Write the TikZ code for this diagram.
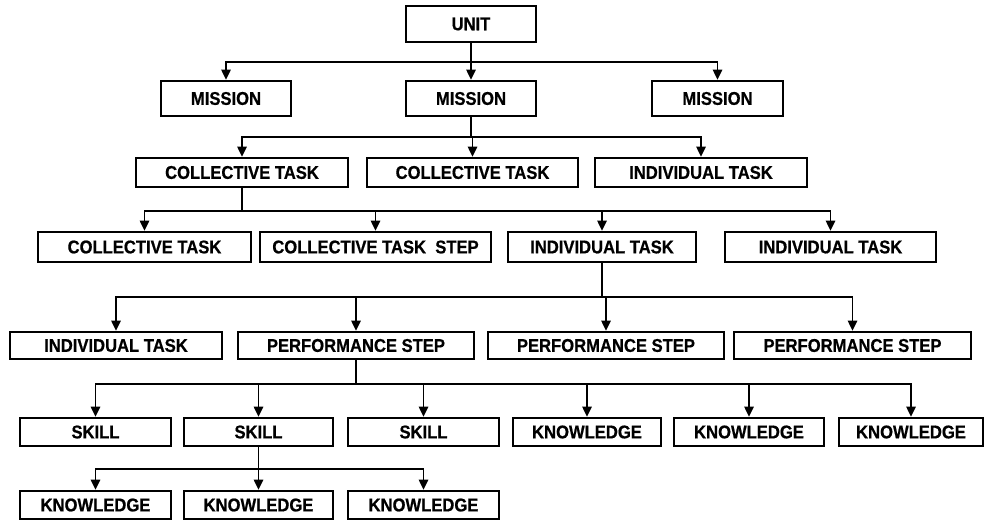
\documentclass[tikz,border=0pt]{standalone}
\usepackage{fontspec}
\setmainfont{Liberation Sans}[FakeStretch=0.9, BoldFeatures={FakeBold=0.6}]
\usetikzlibrary{arrows.meta}

% box named #1 spanning x #2..#3 and y #4..#5 (in drawing units), label #6
\newcommand{\orgbox}[6]{%
  \node[box, minimum width={(#3-#2-2)*0.02cm}, minimum height={(#5-#4-2)*0.02cm}]
    (#1) at ({(#2+#3)/2},{(#4+#5)/2}) {#6};}

\begin{document}
\begin{tikzpicture}[x=0.02cm, y=-0.02cm,
  box/.style={draw, line width=1.5pt, inner sep=0pt, fill=white,
    font=\fontsize{10.5}{12}\selectfont\bfseries},
  link/.style={line width=0.65pt},
  arr/.style={link, -{Triangle[length=0.2cm, width=0.19cm]}}]

\useasboundingbox[fill=white] (0,0) rectangle (986,523);

% bus levels
\coordinate (y1) at (0,62);
\coordinate (y2) at (0,137);
\coordinate (y3) at (0,211);
\coordinate (y4) at (0,297);
\coordinate (y5) at (0,384);
\coordinate (y6) at (0,469);

% level 1
\orgbox{unit}{405}{537}{5}{43}{UNIT}
% level 2
\orgbox{mA}{160}{292}{80}{117}{MISSION}
\orgbox{mB}{405}{537}{80}{117}{MISSION}
\orgbox{mC}{651}{784}{80}{117}{MISSION}
% level 3
\orgbox{cA}{135}{349}{157}{188}{COLLECTIVE TASK}
\orgbox{cB}{366}{579}{157}{188}{COLLECTIVE TASK}
\orgbox{cC}{594}{808}{157}{188}{INDIVIDUAL TASK}
% level 4
\orgbox{dA}{37}{252}{231}{263}{COLLECTIVE TASK}
\orgbox{dB}{259}{492}{231}{263}{COLLECTIVE TASK\ \ STEP}
\orgbox{dC}{507}{697}{231}{263}{INDIVIDUAL TASK}
\orgbox{dD}{724}{937}{231}{263}{INDIVIDUAL TASK}
% level 5
\orgbox{eA}{9}{223}{331}{360}{INDIVIDUAL TASK}
\orgbox{eB}{237}{475}{331}{360}{PERFORMANCE STEP}
\orgbox{eC}{487}{725}{331}{360}{PERFORMANCE STEP}
\orgbox{eD}{733}{972}{331}{360}{PERFORMANCE STEP}
% level 6
\orgbox{fA}{19}{172}{417}{447}{SKILL}
\orgbox{fB}{183}{334}{417}{447}{SKILL}
\orgbox{fC}{347}{500}{417}{447}{SKILL}
\orgbox{fD}{512}{662}{417}{447}{KNOWLEDGE}
\orgbox{fE}{673}{825}{417}{447}{KNOWLEDGE}
\orgbox{fF}{838}{984}{417}{447}{KNOWLEDGE}
% level 7
\orgbox{gA}{19}{172}{490}{520}{KNOWLEDGE}
\orgbox{gB}{183}{334}{490}{520}{KNOWLEDGE}
\orgbox{gC}{347}{500}{490}{520}{KNOWLEDGE}

% connectors: parent down to its bus, bus across, arrows down to children
\draw[link] (unit.south) -- (unit.south |- y1);
\foreach \c in {mA,mB,mC}
  \draw[arr] (unit.south |- y1) -| (\c.north);

\draw[link] (mB.south) -- (mB.south |- y2);
\foreach \c in {cA,cB,cC}
  \draw[arr] (mB.south |- y2) -| (\c.north);

\draw[link] (cA.south) -- (cA.south |- y3);
\foreach \c in {dA,dB,dC,dD}
  \draw[arr] (cA.south |- y3) -| (\c.north);

\draw[link] (dC.south) -- (dC.south |- y4);
\foreach \c in {eA,eB,eC,eD}
  \draw[arr] (dC.south |- y4) -| (\c.north);

\draw[link] (eB.south) -- (eB.south |- y5);
\foreach \c in {fA,fB,fC,fD,fE,fF}
  \draw[arr] (eB.south |- y5) -| (\c.north);

\draw[link] (fB.south) -- (fB.south |- y6);
\foreach \c in {gA,gB,gC}
  \draw[arr] (fB.south |- y6) -| (\c.north);

\end{tikzpicture}
\end{document}
